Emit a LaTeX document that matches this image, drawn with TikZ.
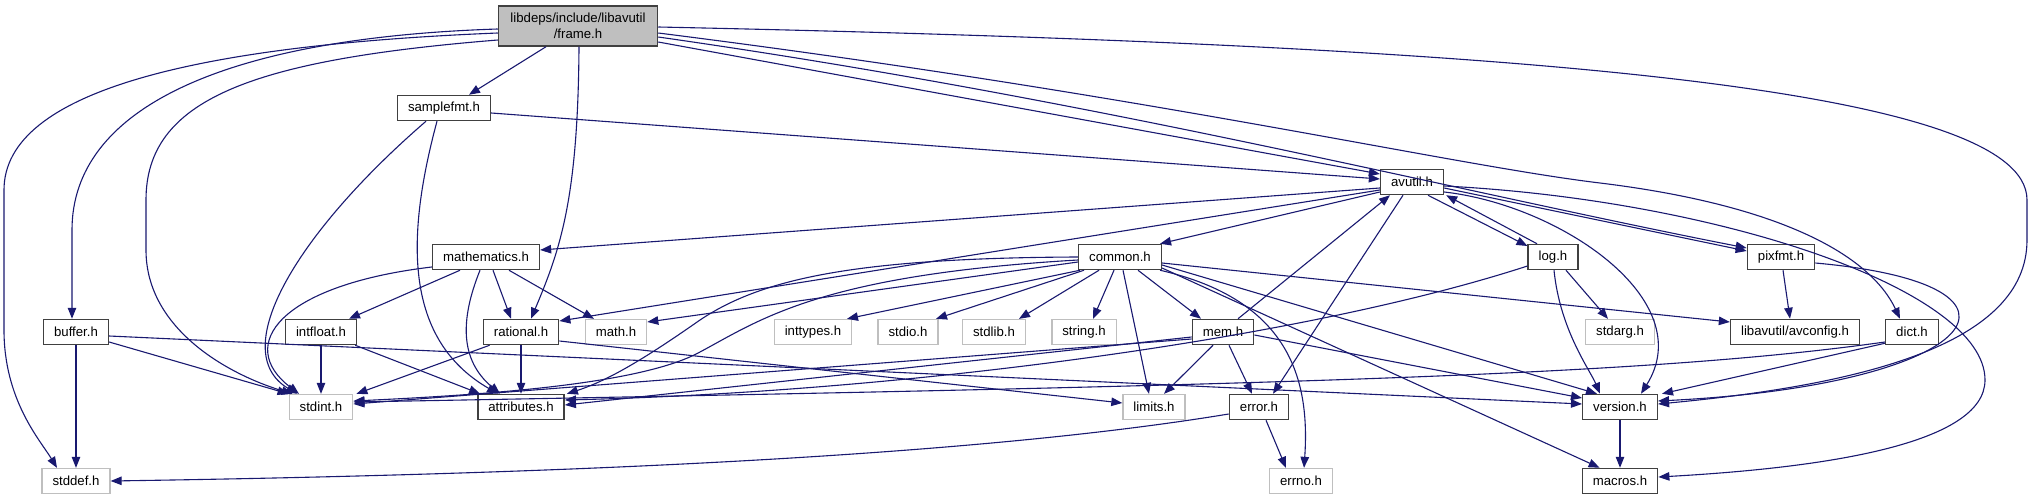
\documentclass[tikz,border=0pt]{standalone}
\usepackage{fontspec}
\setmainfont{Liberation Sans}
\usetikzlibrary{arrows.meta,calc}

\begin{document}
\begin{tikzpicture}[x=1pt,y=-1pt,
  fileBox/.style={draw=colBordo, line width=1.5pt, fill=white, minimum height=25pt,
    inner xsep=10.5pt, inner ysep=2pt, font=\fontsize{13.2}{15.5}\selectfont},
  sysBox/.style={fileBox, draw=colGrigio, line width=1.3pt},
  rootBox/.style={fileBox, fill=colGrigio, align=center, minimum width=159pt, minimum height=40pt},
  dep/.style={draw=colFreccia, line width=1.1pt, -{Triangle[length=11pt,width=8.5pt]}}]

% Colori
\definecolor{colFreccia}{HTML}{191970}
\definecolor{colBordo}{HTML}{404040}
\definecolor{colGrigio}{HTML}{BFBFBF}

\useasboundingbox (0,0) rectangle (2032,500);

% Nodi (coordinate in pixel)
\node[rootBox] (root) at (578,26) {libdeps/include/libavutil\\/frame.h};
\node[fileBox] (samplefmt) at (444,108) {samplefmt.h};
\node[fileBox] (avutil) at (1412,182) {avutil.h};
\node[fileBox] (mathematics) at (486,257) {mathematics.h};
\node[fileBox] (common) at (1120,257) {common.h};
\node[fileBox] (logh) at (1553,257) {log.h};
\node[fileBox] (pixfmt) at (1781,257) {pixfmt.h};
\node[fileBox] (buffer) at (76,332) {buffer.h};
\node[fileBox] (intfloat) at (321,332) {intfloat.h};
\node[fileBox] (rational) at (521,332) {rational.h};
\node[sysBox] (mathh) at (616,332) {math.h};
\node[sysBox] (inttypes) at (813,332) {inttypes.h};
\node[sysBox] (stdio) at (908,332) {stdio.h};
\node[sysBox] (stdlib) at (994,332) {stdlib.h};
\node[sysBox] (string) at (1084,332) {string.h};
\node[fileBox] (mem) at (1223,332) {mem.h};
\node[sysBox] (stdarg) at (1620,332) {stdarg.h};
\node[fileBox] (avconfig) at (1795,332) {libavutil/avconfig.h};
\node[fileBox] (dict) at (1912,332) {dict.h};
\node[sysBox] (stdint) at (321,407) {stdint.h};
\node[fileBox] (attributes) at (521,407) {attributes.h};
\node[sysBox] (limits) at (1154,407) {limits.h};
\node[fileBox] (error) at (1259,407) {error.h};
\node[fileBox] (version) at (1620,407) {version.h};
\node[sysBox] (stddef) at (76,481) {stddef.h};
\node[sysBox] (errno) at (1301,481) {errno.h};
\node[fileBox] (macros) at (1620,481) {macros.h};

% frame.h
\draw[dep] ($(root.west)+(0,3)$) .. controls (220,38) and (72,110) .. (72,230) -- ($(buffer.north)+(-4,0)$);
\draw[dep] ($(root.west)+(0,7)$) .. controls (200,45) and (4,90) .. (4,190) -- (4,330) .. controls (4,400) and (40,440) .. ($(stddef.north)+(-19,0)$);
\draw[dep] ($(root.west)+(0,14)$) .. controls (250,60) and (146,100) .. (146,200) -- (146,250) .. controls (146,330) and (230,375) .. ($(stdint.north west)+(4,0)$);
\draw[dep] ($(root.south)+(-32,0)$) -- ($(samplefmt.north)+(25,0)$);
\draw[dep] ($(root.south)+(1,0)$) .. controls (578,200) and (560,250) .. ($(rational.north)+(10,0)$);
\draw[dep] ($(root.east)+(0,16)$) -- ($(avutil.west)+(0,-8)$);
\draw[dep] ($(root.east)+(0,11)$) .. controls (1100,100) and (1450,190) .. ($(pixfmt.west)+(0,-9)$);
\draw[dep] ($(root.east)+(0,7)$) .. controls (1150,95) and (1450,165) .. (1600,183) .. controls (1780,205) and (1870,255) .. ($(dict.north)+(-12,0)$);
\draw[dep] ($(root.east)+(0,1)$) .. controls (1500,45) and (2027,85) .. (2027,200) -- (2027,240) .. controls (2027,345) and (1860,385) .. ($(version.east)+(0,-3)$);

% samplefmt.h
\draw[dep] ($(samplefmt.east)+(0,5)$) -- ($(avutil.west)+(0,-3)$);
\draw[dep] ($(samplefmt.south)+(-18,0)$) .. controls (300,230) and (225,350) .. ($(stdint.north)+(-24,0)$);
\draw[dep] ($(samplefmt.south)+(-7,0)$) .. controls (405,240) and (405,340) .. ($(attributes.north)+(-23,0)$);

% avutil.h
\draw[dep] ($(avutil.west)+(0,6)$) -- ($(mathematics.east)+(0,-7)$);
\draw[dep] ($(avutil.west)+(0,8)$) -- ($(rational.east)+(0,-11)$);
\draw[dep] ($(avutil.west)+(0,10)$) -- ($(common.north east)+(-2,0)$);
\draw[dep] ($(avutil.south)+(-9,0)$) -- ($(error.north)+(14,0)$);
\draw[dep] ($(avutil.south)+(16,0)$) -- ($(logh.west)+(0,-11)$);
\draw[dep] ($(logh.north)+(-16,0)$) -- ($(avutil.south east)+(2,0)$);
\draw[dep] ($(avutil.east)+(0,6)$) -- ($(pixfmt.west)+(0,-6)$);
\draw[dep] ($(avutil.east)+(0,10)$) .. controls (1560,205) and (1700,300) .. ($(version.north)+(21,0)$);
\draw[dep] ($(avutil.east)+(0,4)$) .. controls (1720,200) and (1985,290) .. (1985,380) .. controls (1985,445) and (1820,468) .. ($(macros.east)+(0,-4)$);

% mathematics.h
\draw[dep] ($(mathematics.west)+(0,10)$) .. controls (280,285) and (235,345) .. ($(stdint.north)+(-22,0)$);
\draw[dep] ($(mathematics.south)+(-26,0)$) -- ($(intfloat.north)+(28,0)$);
\draw[dep] ($(mathematics.south)+(-6,0)$) .. controls (460,320) and (460,360) .. ($(attributes.north)+(-21,0)$);
\draw[dep] ($(mathematics.south)+(7,0)$) -- ($(rational.north)+(-10,0)$);
\draw[dep] ($(mathematics.south)+(23,0)$) -- ($(mathh.north)+(-22,0)$);

% common.h
\draw[dep] ($(common.south west)+(2,0)$) -- ($(inttypes.north)+(34,0)$);
\draw[dep] ($(common.south)+(-36,0)$) -- ($(stdio.north)+(28,0)$);
\draw[dep] ($(common.south)+(-21,0)$) -- ($(stdlib.north)+(25,0)$);
\draw[dep] ($(common.south)+(-6,0)$) -- ($(string.north)+(9,0)$);
\draw[dep] ($(common.south)+(18,0)$) -- ($(mem.north)+(-22,0)$);
\draw[dep] ($(common.south)+(3,0)$) -- ($(limits.north)+(-5,0)$);
\draw[dep] ($(common.west)+(0,5)$) -- ($(mathh.east)+(0,-10)$);
\draw[dep] ($(common.west)+(0,3)$) .. controls (820,275) and (760,320) .. (700,352) .. controls (640,385) and (480,395) .. ($(stdint.east)+(0,-6)$);
\draw[dep] (common.west) .. controls (850,258) and (760,280) .. (700,320) .. controls (650,355) and (610,380) .. ($(attributes.north east)+(2,0)$);
\draw[dep] ($(common.east)+(0,6)$) -- ($(avconfig.west)+(0,-10)$);
\draw[dep] ($(common.east)+(0,8)$) -- ($(version.north west)+(15,0)$);
\draw[dep] ($(common.east)+(0,11)$) -- ($(macros.north west)+(18,0)$);
\draw[dep] ($(common.south east)+(-2,0)$) .. controls (1290,300) and (1310,380) .. ($(errno.north)+(3,0)$);

% log.h
\draw[dep] ($(logh.south)+(13,0)$) -- ($(stdarg.north)+(-12,0)$);
\draw[dep] ($(logh.south)+(1,0)$) .. controls (1560,330) and (1590,370) .. ($(version.north)+(-20,0)$);
\draw[dep] ($(logh.west)+(0,9)$) .. controls (1300,340) and (900,392) .. ($(attributes.east)+(0,-7)$);

% pixfmt.h
\draw[dep] ($(pixfmt.south)+(2,0)$) -- ($(avconfig.north)+(-5,0)$);
\draw[dep] ($(pixfmt.east)+(0,6)$) .. controls (2060,285) and (1980,385) .. ($(version.east)+(0,-6)$);

% buffer.h
\draw[dep] (buffer) -- (stddef);
\draw[dep] ($(buffer.east)+(0,10)$) -- (stdint.north west);
\draw[dep] ($(buffer.east)+(0,4)$) -- ($(version.west)+(0,-3)$);

% intfloat.h, rational.h
\draw[dep] (intfloat) -- (stdint);
\draw[dep] ($(intfloat.south east)+(-2,0)$) -- ($(attributes.north west)+(3,0)$);
\draw[dep] ($(rational.south west)+(7,0)$) -- ($(stdint.north east)+(3,0)$);
\draw[dep] (rational) -- (attributes);
\draw[dep] ($(rational.east)+(0,9)$) -- ($(limits.west)+(0,-4)$);

% mem.h
\draw[dep] ($(mem.north)+(15,0)$) -- ($(avutil.south)+(-22,0)$);
\draw[dep] ($(mem.west)+(0,5)$) -- ($(attributes.east)+(0,-2)$);
\draw[dep] ($(mem.west)+(0,7)$) -- ($(stdint.east)+(0,-3)$);
\draw[dep] ($(mem.south)+(-10,0)$) -- ($(limits.north)+(10,0)$);
\draw[dep] ($(mem.south)+(6,0)$) -- ($(error.north)+(-7,0)$);
\draw[dep] ($(mem.east)+(0,3)$) -- ($(version.west)+(0,-9)$);

% dict.h, error.h, version.h
\draw[dep] ($(dict.west)+(0,10)$) .. controls (1650,375) and (1300,385) .. ($(stdint.east)+(0,-5)$);
\draw[dep] ($(dict.south west)+(0,-2)$) -- ($(version.north east)+(4,0)$);
\draw[dep] ($(error.south)+(7,0)$) -- ($(errno.north)+(-15,0)$);
\draw[dep] ($(error.west)+(0,7)$) .. controls (950,460) and (500,475) .. (stddef.east);
\draw[dep] (version) -- (macros);

\end{tikzpicture}
\end{document}
